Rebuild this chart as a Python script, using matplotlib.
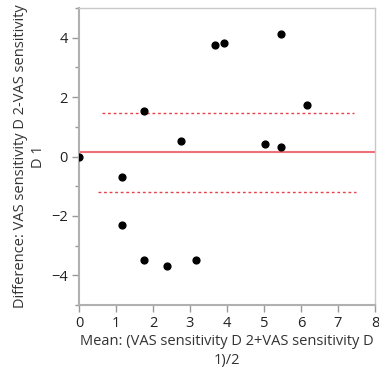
import numpy as np
import matplotlib
matplotlib.use('Agg')
import matplotlib.pyplot as plt
from matplotlib.ticker import MultipleLocator

# Bland-Altman style data
mean_vals = [0.0, 1.16, 1.76, 2.76, 3.67, 3.91, 5.46, 6.16, 5.03, 5.46,
             1.16, 1.76, 2.37, 3.16]
diff_vals = [0.0, -0.68, 1.53, 0.51, 3.74, 3.83, 4.14, 1.73, 0.41, 0.32,
             -2.29, -3.49, -3.70, -3.50]

mean_diff = 0.14
upper_lim = 1.47
lower_lim = -1.21
upper_span = [0.62, 7.43]
lower_span = [0.51, 7.50]

plt.rcParams['font.family'] = ['Open Sans', 'DejaVu Sans']

fig = plt.figure(figsize=(3.79, 3.76), dpi=100)
ax = fig.add_axes([0.2084, 0.1888, 0.7810, 0.7899])

ax.axhline(mean_diff, color='#f07078', lw=1.5, zorder=1)
ax.plot(upper_span, [upper_lim, upper_lim], color='#e8404a', lw=1.0,
        ls=(0, (2, 2)), zorder=1)
ax.plot(lower_span, [lower_lim, lower_lim], color='#e8404a', lw=1.0,
        ls=(0, (2, 2)), zorder=1)
ax.scatter(mean_vals, diff_vals, s=24, color='black', zorder=3)

ax.set_xlim(0, 8)
ax.set_ylim(-5, 5)
ax.xaxis.set_major_locator(MultipleLocator(1))
ax.yaxis.set_major_locator(MultipleLocator(2))
ax.yaxis.set_minor_locator(MultipleLocator(1))

for side in ['left', 'bottom']:
    ax.spines[side].set_color('#b0b0b0')
    ax.spines[side].set_linewidth(1.5)
for side in ['top', 'right']:
    ax.spines[side].set_color('#c8c8c8')
    ax.spines[side].set_linewidth(1.0)

ax.tick_params(which='major', length=5, width=1, color='#999999',
               labelsize=10.5, labelcolor='#222222', pad=3)
ax.tick_params(which='minor', length=3, width=1, color='#999999')

ax.set_xlabel('Mean: (VAS sensitivity D 2+VAS sensitivity D\n1)/2',
              fontsize=10.5, color='#333333', labelpad=2, linespacing=1.35)
ax.set_ylabel('Difference: VAS sensitivity D 2-VAS sensitivity\nD 1',
              fontsize=10.5, color='#333333', labelpad=4)

fig.savefig('out.png', dpi=100)
